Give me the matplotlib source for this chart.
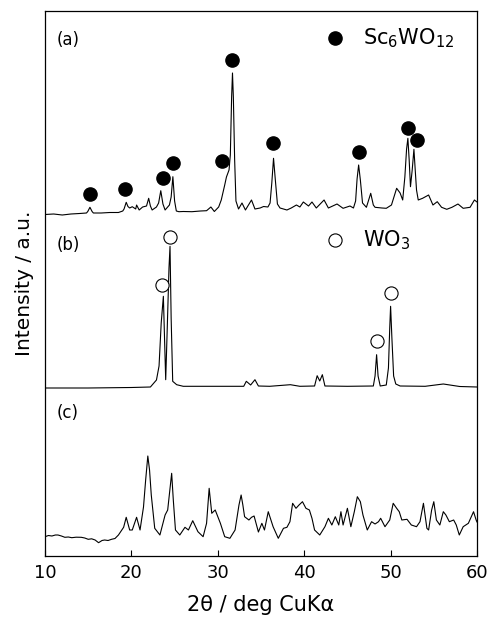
import matplotlib
matplotlib.use("Agg")
import matplotlib.pyplot as plt
import numpy as np

plt.rcParams['font.family'] = ['DejaVu Sans']
plt.rcParams['mathtext.fontset'] = 'dejavusans'

# ---------------- data (2theta in deg, intensity in a.u.) ----------------
a_x = [10.0, 11.0, 12.0, 13.0, 14.0, 14.8, 14.95, 15.2, 15.45, 15.6, 16.5, 17.5, 18.5, 19.0,
       19.15, 19.4, 19.6, 19.8, 20.1, 20.5, 20.6, 20.9, 21.3, 21.75, 22.0, 22.2, 22.4, 22.9,
       23.15, 23.4, 23.65, 23.9, 24.4, 24.6, 24.8, 25.0, 25.2, 25.5, 26.0, 27.0, 28.0, 28.7,
       29.2, 29.6, 30.1, 30.4, 30.8, 31.0, 31.3, 31.45, 31.6, 31.7, 31.8, 31.95, 32.1, 32.4,
       32.8, 33.2, 33.9, 34.3, 34.9, 35.3, 35.8, 36.05, 36.25, 36.45, 36.65, 36.9, 37.2,
       38.0, 38.5, 39.1, 39.5, 39.9, 40.5, 40.9, 41.4, 42.3, 42.8, 43.3, 43.8, 44.5, 45.3,
       45.7, 45.95, 46.12, 46.3, 46.5, 46.75, 47.2, 47.7, 48.0, 48.2, 49.0, 49.5, 50.1, 50.7,
       51.1, 51.4, 51.65, 51.85, 52.0, 52.15, 52.3, 52.5, 52.7, 52.85, 53.0, 53.2, 53.7,
       54.4, 54.9, 55.4, 55.9, 56.5, 57.1, 57.8, 58.4, 59.2, 59.7, 60.0]
a_y = [0.5, 1.0, 0.0, 1.0, 1.5, 2.0, 3.5, 7.7, 3.5, 2.0, 2.0, 2.5, 2.5, 4.0,
       6.0, 12.7, 8.5, 7.0, 8.3, 6.0, 10.0, 5.0, 8.0, 9.0, 16.7, 9.0, 5.0, 8.0,
       12.0, 24.3, 11.0, 5.0, 10.0, 18.0, 38.3, 14.0, 4.0, 3.3, 3.5, 3.3, 4.0, 4.3,
       8.0, 3.5, 8.0, 15.0, 30.0, 38.0, 45.0, 60.0, 118.0, 142.0, 118.0, 55.0, 14.0, 6.0,
       12.0, 5.0, 15.0, 6.0, 7.0, 8.5, 8.0, 12.0, 32.0, 56.7, 36.0, 11.0, 7.0,
       5.0, 7.0, 10.0, 8.0, 13.0, 9.0, 13.0, 7.0, 15.0, 7.0, 9.0, 11.0, 6.7, 9.0,
       7.0, 14.0, 36.0, 50.0, 35.0, 12.0, 7.7, 21.7, 10.0, 7.7, 7.0, 6.7, 10.0, 26.7,
       22.0, 15.0, 38.0, 66.0, 76.7, 55.0, 28.3, 45.0, 65.7, 45.0, 25.0, 15.0, 16.7,
       20.0, 10.0, 13.3, 7.7, 5.7, 7.7, 11.0, 6.7, 7.7, 15.0, 13.0]

b_x = [10.0, 15.0, 20.0, 22.2, 22.9, 23.2, 23.45, 23.7, 23.85, 23.97, 24.15, 24.35, 24.47,
       24.6, 24.78, 25.24, 26.0, 30.0, 33.0, 33.3, 33.8, 34.3, 34.7, 36.0, 38.4, 39.5, 41.2,
       41.5, 41.8, 42.1, 42.4, 45.0, 48.0, 48.2, 48.38, 48.55, 48.8, 49.5, 49.75, 49.9, 50.0,
       50.15, 50.35, 50.6, 51.1, 54.0, 56.1, 58.0, 60.0]
b_y = [0.0, 0.0, 0.5, 1.0, 8.0, 22.0, 65.0, 91.7, 45.0, 8.3, 60.0, 120.0, 141.7,
       70.0, 6.7, 3.3, 1.7, 1.7, 1.7, 6.7, 3.0, 8.3, 2.0, 1.7, 3.3, 1.7, 2.0,
       12.3, 7.0, 13.3, 2.0, 1.7, 2.0, 12.0, 33.3, 12.0, 2.0, 3.0, 20.0, 60.0, 81.7,
       50.0, 12.0, 4.0, 2.0, 1.7, 4.0, 1.5, 1.0]

c_x = [10.0, 10.4, 10.8, 11.2, 11.5, 11.9, 12.3, 12.7, 13.1, 13.6, 14.2, 14.6, 15.0, 15.4,
       15.8, 16.2, 16.6, 16.9, 17.3, 17.7, 18.1, 18.5, 19.1, 19.4, 19.8, 20.1, 20.6, 21.0,
       21.4, 21.65, 21.9, 22.1, 22.3, 22.7, 23.3, 23.9, 24.2, 24.45, 24.66, 24.85, 25.1,
       25.6, 26.2, 26.6, 27.1, 27.7, 28.3, 28.7, 29.0, 29.3, 29.7, 30.3, 30.8, 31.4, 32.0,
       32.45, 32.7, 32.9, 33.1, 33.6, 33.9, 34.2, 34.7, 35.1, 35.4, 35.84, 36.4, 37.0, 37.6,
       38.0, 38.35, 38.66, 39.05, 39.4, 39.8, 40.2, 40.6, 40.9, 41.2, 41.8, 42.4, 42.8,
       43.2, 43.6, 44.0, 44.25, 44.5, 45.0, 45.4, 45.8, 46.15, 46.5, 46.8, 47.3, 47.8, 48.2,
       48.6, 48.85, 49.35, 49.9, 50.3, 50.7, 51.0, 51.3, 51.9, 52.4, 53.0, 53.4, 53.8, 54.2,
       54.4, 54.75, 55.0, 55.3, 55.7, 56.1, 56.4, 56.8, 57.3, 57.6, 57.95, 58.4, 59.0, 59.6,
       59.9, 60.0]
c_y = [3.3, 4.5, 4.0, 5.0, 5.0, 4.0, 2.7, 3.0, 2.3, 2.8, 2.7, 2.0, 0.7, 1.2,
       0.0, -2.7, -0.5, 0.0, -0.5, 0.7, 1.5, 5.0, 12.7, 22.7, 10.0, 10.0, 22.7, 10.0,
       33.0, 60.0, 84.0, 70.0, 45.0, 11.7, 5.0, 25.0, 30.0, 50.0, 66.7, 40.0, 10.0,
       5.0, 12.7, 10.0, 19.3, 8.3, 3.3, 16.7, 51.7, 26.7, 30.0, 16.7, 3.3, 1.7, 10.0,
       35.0, 45.0, 35.0, 23.3, 20.0, 22.7, 24.0, 8.0, 16.7, 10.0, 28.3, 13.3, 1.7, 11.7,
       12.7, 18.3, 36.7, 31.7, 35.0, 38.3, 31.7, 30.0, 21.7, 10.0, 5.0, 13.3, 21.7,
       15.0, 23.3, 15.0, 28.3, 15.0, 31.7, 13.3, 28.3, 43.3, 38.3, 25.0, 10.0, 18.3, 16.0,
       18.3, 21.7, 13.3, 20.0, 36.7, 31.7, 28.3, 20.0, 20.7, 15.0, 13.3, 18.3, 36.7, 11.7,
       10.0, 30.0, 38.3, 20.0, 15.0, 28.3, 25.0, 18.3, 20.0, 15.0, 5.0, 13.3, 16.7, 28.3,
       20.0, 18.0]

# peak markers (2theta, intensity above each trace's baseline)
a_mark_x = [15.2, 19.26, 23.6, 24.85, 30.5, 31.68, 36.42, 46.3, 52.05, 53.0]
a_mark_y = [21.5, 25.7, 36.7, 51.7, 54.3, 155.0, 72.3, 62.7, 86.7, 75.0]
b_mark_x = [23.5, 24.47, 48.46, 50.1]
b_mark_y = [103.0, 151.3, 47.0, 94.7]

offsets = {'a': 341.0, 'b': 168.0, 'c': 16.0}
panel_labels = ['(a)', '(b)', '(c)']
phase_labels = [r'Sc$_6$WO$_{12}$', r'WO$_3$']
xticks = [10, 20, 30, 40, 50, 60]

# ---------------- figure ----------------
fig = plt.figure(figsize=(4.95, 6.19), dpi=100)
ax = fig.add_axes([45/495, 63/619, 432/495, 545/619])

lw = 0.8
ax.plot(a_x, np.array(a_y) + offsets['a'], color='black', lw=lw)
ax.plot(b_x, np.array(b_y) + offsets['b'], color='black', lw=lw)
ax.plot(c_x, np.array(c_y) + offsets['c'], color='black', lw=lw)

ax.plot(a_mark_x, np.array(a_mark_y) + offsets['a'], 'o', color='black',
        markersize=9.5, linestyle='none')
ax.plot(b_mark_x, np.array(b_mark_y) + offsets['b'], 'o', markerfacecolor='white',
        markeredgecolor='black', markeredgewidth=0.8, markersize=9.5, linestyle='none')

# legend-like annotations
ax.plot([0.671], [0.950], 'o', color='black', markersize=9.5, transform=ax.transAxes)
ax.text(0.735, 0.950, phase_labels[0], transform=ax.transAxes, fontsize=15,
        va='center', ha='left')
ax.plot([0.671], [0.580], 'o', markerfacecolor='white', markeredgecolor='black',
        markeredgewidth=0.8, markersize=9.5, transform=ax.transAxes)
ax.text(0.735, 0.580, phase_labels[1], transform=ax.transAxes, fontsize=15,
        va='center', ha='left')

for lab, yy in zip(panel_labels, [0.947, 0.571, 0.262]):
    ax.text(0.027, yy, lab, transform=ax.transAxes, fontsize=12, va='center', ha='left')

ax.set_xlim(10, 60)
ax.set_ylim(0, 545)
ax.set_xticks(xticks)
ax.set_yticks([])
ax.tick_params(axis='x', direction='in', length=4.5, width=0.8, labelsize=13, pad=6)
for s in ax.spines.values():
    s.set_linewidth(0.9)

ax.set_xlabel('2θ / deg CuKα', fontsize=15, labelpad=9)
ax.set_ylabel('Intensity / a.u.', fontsize=14.5, labelpad=8)

fig.savefig('out.png', dpi=100)
